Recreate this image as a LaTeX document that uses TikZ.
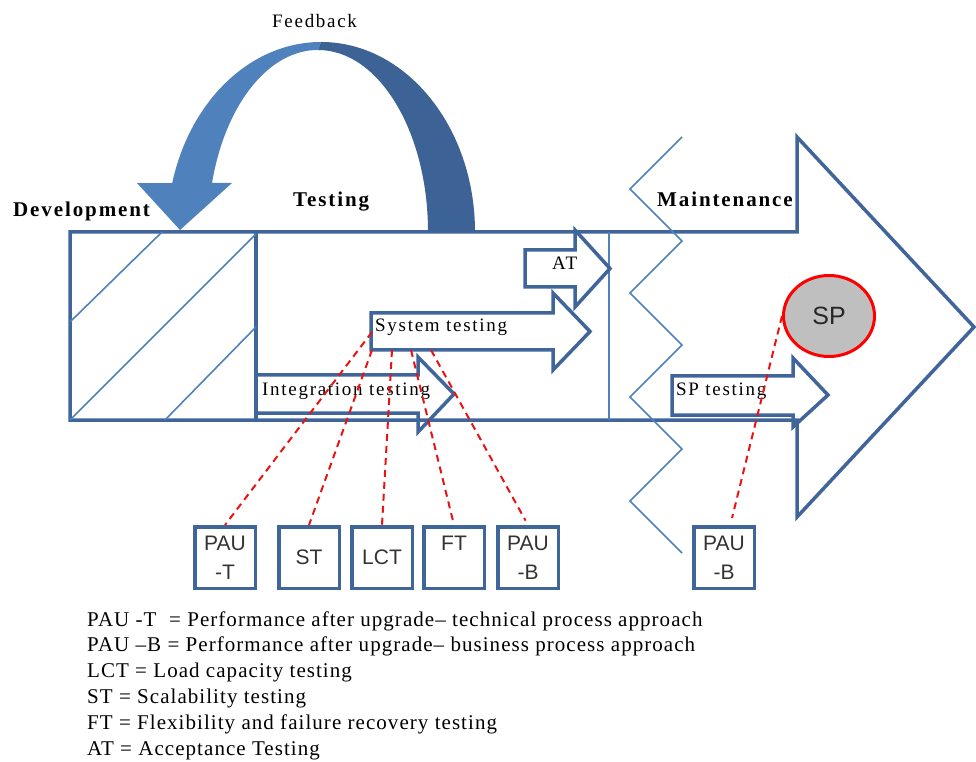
\documentclass[tikz,border=0pt]{standalone}
\usepackage{fontspec}
\setmainfont{Liberation Serif}
\newfontfamily\boxfont{Liberation Sans}
\usetikzlibrary{calc,shapes.geometric}

\definecolor{edgeblue}{RGB}{63,101,154}
\definecolor{lineblue}{RGB}{79,129,189}
\definecolor{lightarc}{RGB}{79,129,189}
\definecolor{darkarc}{RGB}{61,99,150}
\definecolor{spgray}{RGB}{191,191,191}
\definecolor{dashred}{RGB}{232,20,20}

\begin{document}
\begin{tikzpicture}[x=1pt,y=1pt,
  thick edge/.style={draw=edgeblue,line width=3.5pt,line join=miter},
  thin edge/.style={draw=lineblue,line width=1.6pt},
  link/.style={draw=dashred,line width=2pt,dash pattern=on 7pt off 5pt},
  abbrbox/.style={thick edge,fill=white,minimum width=60.5pt,minimum height=61.5pt,inner sep=0pt,
    font=\boxfont\fontsize{21}{29}\selectfont,text=black!80,align=center},
  phase/.style={font=\bfseries\fontsize{21}{25}\selectfont\addfontfeature{LetterSpace=9},anchor=base west,inner sep=0pt},
  tag/.style={font=\fontsize{19}{23}\selectfont\addfontfeature{LetterSpace=9},anchor=base west,inner sep=0pt},
  legend/.style={font=\fontsize{21}{27}\selectfont\addfontfeature{LetterSpace=5},anchor=base west,inner sep=0pt}]

\useasboundingbox (0,0) rectangle (976,761);
\fill[white] (0,0) rectangle (976,761);

% life-cycle arrow: development, testing and maintenance
\draw[thick edge,fill=white] (70,529) -- (797,529) -- (797,624) -- (974,434) -- (797,244)
  -- (797,341) -- (70,341) -- cycle;
\draw[thick edge] (256,529) -- (256,341);
\draw[thin edge] (70,439) -- (162,529) (70,341) -- (256,527) (165,341) -- (256,434);
\draw[thin edge] (609,529) -- (609,341);
\draw[thin edge] (682,624) -- (630,572) -- (682,520) -- (630,468) -- (682,416)
  -- (630,364) -- (682,312) -- (630,260) -- (682,208);

% testing stages
\draw[thick edge] (525,511) -- (575,511) -- (575,531) -- (610,492.5) -- (575,454)
  -- (575,474) -- (525,474) -- cycle;
\draw[thick edge] (371,448) -- (553,448) -- (553,468) -- (590,429.5) -- (553,391)
  -- (553,411) -- (371,411) -- cycle;
\draw[thick edge] (256,386) -- (418,386) -- (418,404) -- (454,367) -- (418,329)
  -- (418,348) -- (256,348);
\draw[thick edge] (672,385) -- (793,385) -- (793,403) -- (828,366) -- (793,334)
  -- (793,346) -- (672,346) -- cycle;

% feedback loop
\fill[lightarc] (321,719) arc[start angle=90,end angle=165.1,x radius=154pt,y radius=190pt]
  -- (137,578) -- (180,531) -- (232,578) -- (212,578)
  arc[start angle=164.4,end angle=90,x radius=110pt,y radius=182pt] -- cycle;
\fill[darkarc] (321,719) arc[start angle=90,end angle=0,x radius=154pt,y radius=190pt]
  -- (428,529) arc[start angle=0,end angle=90,x radius=110pt,y radius=182pt] -- cycle;

% labels
\node[tag] (fb) at (272,733) {Feedback};
\node[phase] (dev) at (13,544) {Development};
\node[phase] (tst) at (293,554) {Testing};
\node[phase] (mnt) at (657,554) {Maintenance};
\node[tag] (atl) at (552,491) {AT};
\node[tag] (sysl) at (375,429) {System testing};
\node[tag] (intl) at (262,366) {Integration testing};
\node[tag] (spl) at (676,366) {SP testing};

\node[ellipse,draw=red,line width=3pt,fill=spgray,minimum width=91pt,minimum height=81pt,
  inner sep=0pt,font=\boxfont\fontsize{25}{29}\selectfont,text=black!85] (sp) at (829,445) {SP};

% test types
\node[abbrbox] (paut) at (225,203.5) {PAU\\-T};
\node[abbrbox] (st) at (309,203.5) {ST};
\node[abbrbox] (lct) at (382,203.5) {LCT};
\node[abbrbox] (ft) at (454,203.5) {FT\\\mbox{}};
\node[abbrbox] (paub) at (528,203.5) {PAU\\-B};
\node[abbrbox] (paubm) at (724,203.5) {PAU\\-B};

% links from system testing to the test types
\coordinate (s1) at (372,429);
\coordinate (s2) at (372,411);
\coordinate (s3) at (392,411);
\coordinate (s4) at (411,411);
\coordinate (s5) at (431,411);
\draw[link] (s1) -- (paut.north);
\draw[link] (s2) -- (st.north);
\draw[link] (s3) -- (lct.north);
\draw[link,shorten >=5pt] (s4) -- (ft.north);
\draw[link,shorten >=5pt] (s5) -- (paub.north);
\draw[link] (sp.west) -- ($(paubm.north)+(8,7)$);

% abbreviations
\node[legend] (l1) at (87,135) {PAU -T~~= Performance after upgrade– technical process approach};
\node[legend] (l2) at (87,109.2) {PAU –B = Performance after upgrade– business process approach};
\node[legend] (l3) at (87,83.4) {LCT = Load capacity testing};
\node[legend] (l4) at (87,57.6) {ST = Scalability testing};
\node[legend] (l5) at (87,31.8) {FT = Flexibility and failure recovery testing};
\node[legend] (l6) at (87,6) {AT = Acceptance Testing};

\end{tikzpicture}
\end{document}
